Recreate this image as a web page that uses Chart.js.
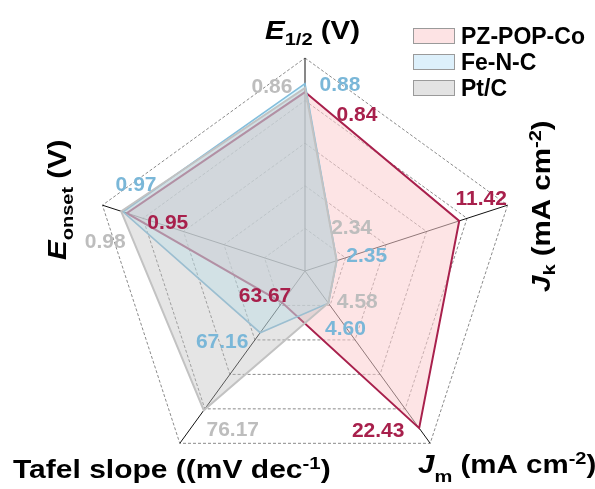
<!DOCTYPE html>
<html>
<head>
<meta charset="utf-8">
<script src="https://cdn.jsdelivr.net/npm/chart.js@4.4.0/dist/chart.umd.min.js"></script>
<style>
  body { margin: 0; background: #fff; }
  canvas { display: block; }
</style>
</head>
<body>
<canvas id="radar" width="595" height="489"></canvas>
<script>
// axes, clockwise from the top
const AXES = ["E1/2", "Jk", "Jm", "Tafel", "Eonset"]
// each axis has its own range, values get scaled into 0..1
const AXIS_MIN = [0, 0, 0, 60, 0]
const AXIS_MAX = [1, 15, 24.6, 80, 1.08]

const PZ_VALUES = [0.84, 11.42, 22.43, 63.67, 0.95]
const FE_VALUES = [0.88, 2.35, 4.60, 67.16, 0.97]
const PT_VALUES = [0.86, 2.34, 4.58, 76.17, 0.98]

const SERIES = ["PZ-POP-Co", "Fe-N-C", "Pt/C"]

// where each value label sits relative to its point
const LABEL_OFFSETS = [
  [[52, 21], [22, -23], [-41, 1], [-17, -8], [41, 8]],
  [[35, 0], [30, -6], [17, 24], [-38, 8], [13, -28]],
  [[-33, -2], [15, -34], [29, -3], [29, 18], [-16, 29]]
]

const LINE_COLORS = ["#a8204c", "#84bedc", "#c2c2c2"]
const FILL_COLORS = ["rgba(251,205,208,0.55)", "rgba(175,237,255,0.4)", "rgba(190,190,190,0.4)"]
const LABEL_COLORS = ["#a8204c", "#7ab7d8", "#bdbdbd"]
const SWATCH_COLORS = ["#fde3e4", "#ddf0fb", "#e3e3e3"]

const FONT = '"Liberation Sans", Arial, sans-serif'

const scaleValues = (vals) => vals.map((v, i) => (v - AXIS_MIN[i]) / (AXIS_MAX[i] - AXIS_MIN[i]))

// text with sub/superscripts, optionally rotated, stretched a bit sideways
const drawRich = (ctx, parts, x, y, size, sx, angle) => {
  ctx.save()
  ctx.translate(x, y)
  ctx.rotate(angle)
  ctx.scale(sx, 1)
  ctx.textAlign = "left"
  ctx.textBaseline = "alphabetic"
  ctx.fillStyle = "#000"
  let cx = 0
  parts.forEach((p) => {
    const small = p.sub || p.sup
    const s = small ? size * 0.68 : size
    ctx.font = (p.italic ? "italic " : "") + "bold " + s + "px " + FONT
    let dy = 0
    if (p.sub) dy = p.subDy || size * 0.3
    if (p.sup) dy = -size * 0.36
    ctx.fillText(p.t, cx, dy)
    cx += ctx.measureText(p.t).width
  })
  ctx.restore()
}

const decorations = {
  id: "decorations",
  afterDatasetsDraw(chart) {
    const ctx = chart.ctx
    ctx.save()
    // value labels
    ctx.font = "bold 21px " + FONT
    ctx.textAlign = "center"
    ctx.textBaseline = "alphabetic"
    const raw = [PZ_VALUES, FE_VALUES, PT_VALUES]
    raw.forEach((vals, d) => {
      const meta = chart.getDatasetMeta(d)
      ctx.fillStyle = LABEL_COLORS[d]
      vals.forEach((v, i) => {
        const pt = meta.data[i]
        const off = LABEL_OFFSETS[d][i]
        ctx.fillText(v.toFixed(2), pt.x + off[0], pt.y + off[1] + 7.5)
      })
    })

    // legend
    SERIES.forEach((name, i) => {
      const y = 28 + i * 26
      ctx.fillStyle = SWATCH_COLORS[i]
      ctx.fillRect(413, y, 42, 15)
      ctx.strokeStyle = "#9a9a9a"
      ctx.lineWidth = 1
      ctx.strokeRect(413.5, y + 0.5, 41, 15)
      ctx.fillStyle = "#000"
      ctx.font = "bold 23px " + FONT
      ctx.textAlign = "left"
      ctx.fillText(name, 461, y + 16)
    })
    ctx.restore()

    // axis titles
    const sx = 1.18
    drawRich(ctx, [{t: "E", italic: true}, {t: "1/2", sub: true, subDy: 6}, {t: " (V)"}], 265, 39, 25, sx, 0)
    drawRich(ctx, [{t: "J", italic: true}, {t: "k", sub: true, subDy: 5}, {t: " (mA cm"}, {t: "-2", sup: true}, {t: ")"}],
      550, 292, 25, sx, -Math.PI / 2)
    drawRich(ctx, [{t: "J", italic: true}, {t: "m", sub: true, subDy: 9}, {t: " (mA cm"}, {t: "-2", sup: true}, {t: ")"}],
      418, 473, 25, sx, 0)
    drawRich(ctx, [{t: "Tafel slope ((mV dec"}, {t: "-1", sup: true}, {t: ")"}], 13, 478, 25, 1.2, 0)
    drawRich(ctx, [{t: "E", italic: true}, {t: "onset", sub: true, subDy: 7}, {t: " (V)"}],
      66, 260, 25, sx, -Math.PI / 2)
  }
}

const makeDataset = (i, vals) => ({
  label: SERIES[i],
  data: scaleValues(vals),
  borderColor: LINE_COLORS[i],
  backgroundColor: FILL_COLORS[i],
  borderWidth: i === 1 ? 1.6 : 2,
  pointRadius: 0,
  fill: true,
  order: 3 - i
})

new Chart(document.getElementById("radar"), {
  type: "radar",
  data: {
    labels: AXES,
    datasets: [
      makeDataset(0, PZ_VALUES),
      makeDataset(1, FE_VALUES),
      makeDataset(2, PT_VALUES)
    ]
  },
  options: {
    responsive: false,
    animation: false,
    layout: { padding: { top: 58, bottom: 5, left: 60, right: 45 } },
    elements: { line: { tension: 0 } },
    plugins: {
      legend: { display: false },
      tooltip: { enabled: false }
    },
    scales: {
      r: {
        min: 0,
        max: 1,
        ticks: { display: false, stepSize: 0.2 },
        pointLabels: { display: false },
        grid: { color: "#8a8a8a", lineWidth: 1 },
        border: { dash: [3, 2] },
        angleLines: { color: "#111", lineWidth: 1 }
      }
    }
  },
  plugins: [decorations]
})
</script>
</body>
</html>
